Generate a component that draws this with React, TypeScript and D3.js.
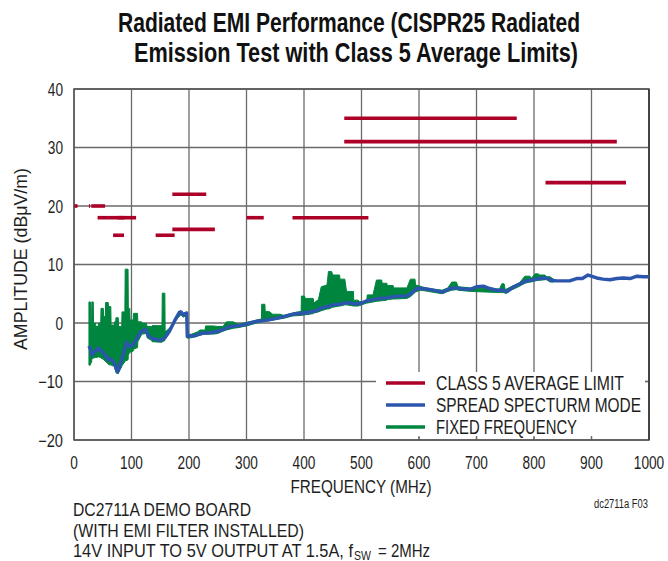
import React from 'react';
import * as d3 from 'd3';

// CISPR25 class 5 average limit segments (MHz, dBµV/m)
const limitStart = [0.53, 26, 30, 41, 76, 68, 142, 171, 171, 300, 380, 470, 470, 820];
const limitEnd = [6.2, 28, 54, 88, 108, 87, 175, 230, 245, 330, 512, 770, 944, 960];
const limitLevel = [20, 20, 20, 18, 18, 15, 15, 22, 16, 18, 18, 35, 31, 24];

// spread spectrum trace
const ssFreq = [26, 29, 31, 34, 37, 42, 45, 50, 54, 60, 64, 68, 72, 75, 77, 80, 83, 86, 89, 92, 95, 97, 103, 109, 114, 118, 124, 129, 135, 141, 147, 153, 158, 161, 166, 170, 175, 179, 183, 186, 190, 193, 196, 197, 202, 210, 218, 225, 235, 248, 260, 271, 283, 294, 306, 318, 330, 341, 352, 364, 376, 387, 393, 398, 405, 410, 422, 428, 440, 450, 462, 474, 486, 497, 509, 520, 532, 544, 555, 567, 578, 584, 590, 596, 608, 620, 631, 642, 654, 666, 677, 689, 700, 712, 723, 735, 747, 753, 763, 776, 787, 798, 810, 821, 830, 839, 851, 862, 874, 884, 894, 909, 920, 932, 944, 955, 967, 979, 990, 1000];
const ssLevel = [-3.9, -4.6, -5.5, -5.0, -4.9, -4.3, -4.6, -5.0, -5.5, -6.3, -6.1, -6.6, -7.4, -8.3, -8.2, -7.1, -6.2, -5.2, -4.2, -3.3, -3.7, -4.0, -3.7, -2.6, -1.8, -1.4, -1.1, -2.1, -2.6, -2.8, -2.9, -2.9, -2.5, -2.1, -1.4, -0.6, 0.4, 1.1, 1.8, 1.9, 1.4, 1.6, 1.7, -2.3, -2.2, -2.2, -1.9, -1.7, -1.7, -1.5, -1.1, -0.6, -0.5, -0.35, 0.0, 0.3, 0.4, 0.6, 0.8, 1.1, 1.4, 1.65, 1.5, 1.8, 1.7, 1.9, 2.1, 2.5, 2.8, 3.1, 3.2, 3.5, 3.3, 3.3, 3.8, 4.0, 4.2, 4.3, 4.5, 4.6, 4.6, 4.9, 5.35, 5.9, 5.9, 5.7, 5.5, 5.3, 5.9, 6.0, 5.8, 5.75, 6.2, 6.3, 5.9, 5.6, 5.6, 5.35, 6.1, 6.7, 7.2, 7.4, 7.6, 7.7, 7.3, 7.2, 7.2, 7.2, 7.6, 7.6, 8.2, 7.7, 7.5, 7.4, 7.6, 7.7, 7.6, 8.0, 7.9, 7.9];

// fixed frequency trace, drawn as its upper and lower envelope
const ffFreq = [26, 28.5, 29, 30.5, 31, 33.5, 34, 37.5, 38, 42, 42.5, 46.5, 47, 51, 51.5, 54.5, 55, 59.5, 60, 64, 64.5, 70, 70.5, 72.5, 73, 77, 77.5, 83, 83.5, 88.5, 89, 94, 94.5, 97, 97.5, 103, 103.5, 110.5, 111, 117.5, 118, 126, 127, 135, 136, 153, 153.5, 158, 158.5, 165, 170, 175, 180, 186, 190, 196, 197, 205, 215, 219, 228, 229, 242, 250, 259, 265, 277, 285, 300, 318, 326, 326.5, 332, 332.5, 341, 345, 358, 365, 380, 395, 395.5, 401, 402, 416, 417, 425, 430, 440, 442.5, 448, 450, 462, 462.5, 471, 474, 486, 486.5, 494, 497, 509, 510, 520, 526, 535, 536, 544, 545, 555, 556, 579, 585, 593, 594, 602, 610, 640, 650, 657, 665, 668, 690, 740, 744, 748, 750, 760, 775, 784, 793, 795, 802, 807, 810, 819, 822, 828, 835];
const ffHigh = [3.6, 3.6, 0.3, 0.3, 3.6, 3.6, -0.05, -0.05, -0.6, -0.6, -0.05, -0.05, 2.5, 2.5, 1.1, 1.1, 3.5, 3.5, 2.8, 2.8, -0.35, -0.35, 0.2, 0.2, 0.9, 0.9, -0.6, -0.6, 1.9, 1.9, 9.2, 9.2, 2.5, 2.5, 0.5, 0.5, 1.65, 1.65, 0.2, 0.2, -0.05, -0.05, -0.6, -0.6, -0.45, -0.45, 5.1, 5.1, -1.5, -1.0, -0.4, 0.6, 1.4, 2.1, 1.6, 1.9, -2.0, -1.9, -1.5, -1.2, -1.2, -0.5, -0.5, -0.6, -0.6, 0.2, 0.2, -0.2, 0.1, 0.5, 0.7, 3.2, 3.2, 2.0, 1.9, 1.5, 1.5, 1.3, 1.7, 2.0, 4.6, 4.6, 4.2, 4.2, 3.4, 4.0, 6.2, 6.5, 8.8, 8.8, 8.2, 8.2, 7.5, 7.5, 5.4, 5.4, 3.9, 3.9, 3.65, 3.65, 4.8, 4.8, 7.35, 7.35, 6.8, 6.8, 6.4, 6.4, 6.0, 6.0, 7.5, 7.5, 6.5, 6.3, 6.0, 5.6, 6.0, 7.0, 7.0, 6.2, 6.0, 5.8, 6.7, 6.7, 5.7, 6.2, 6.9, 8.0, 8.0, 7.6, 8.4, 8.4, 8.2, 8.2, 7.9, 7.9, 7.4];
const ffLow = [-7.2, -7.2, -6.8, -6.8, -6.2, -6.0, -6.0, -5.9, -5.9, -5.8, -5.8, -5.9, -6.0, -6.2, -6.3, -6.5, -6.6, -7.0, -7.1, -7.2, -7.2, -7.4, -7.6, -8.2, -8.5, -8.7, -8.4, -7.5, -7.3, -6.6, -6.5, -6.3, -5.5, -5.0, -5.0, -4.8, -4.5, -4.2, -3.2, -2.0, -1.9, -1.8, -2.5, -3.0, -3.2, -3.3, -3.2, -3.0, -2.8, -1.9, -1.0, 0.0, 0.8, 1.4, 1.0, 1.3, -2.6, -2.5, -2.2, -2.1, -1.9, -1.9, -1.9, -1.8, -1.4, -1.2, -0.9, -0.8, -0.5, 0.0, 0.2, 0.2, 0.3, 0.3, 0.4, 0.5, 0.7, 0.8, 1.2, 1.3, 1.3, 1.4, 1.4, 1.6, 1.7, 1.9, 2.1, 2.4, 2.4, 2.6, 2.7, 2.9, 2.9, 3.1, 3.1, 2.9, 2.9, 2.9, 3.0, 3.4, 3.4, 3.6, 3.7, 3.8, 3.8, 3.9, 4.0, 4.1, 4.1, 4.2, 4.5, 5.2, 5.3, 5.6, 5.5, 5.0, 5.4, 5.6, 5.7, 5.6, 5.4, 5.2, 5.2, 5.2, 5.0, 5.6, 6.3, 6.8, 7.0, 7.0, 7.2, 7.3, 7.3, 7.4, 7.4, 7.0, 7.0];

const xTicks = [0, 100, 200, 300, 400, 500, 600, 700, 800, 900, 1000];
const yTicks = [-20, -10, 0, 10, 20, 30, 40];

const legendLabels = ['CLASS 5 AVERAGE LIMIT', 'SPREAD SPECTURM MODE', 'FIXED FREQUENCY'];
const legendWidths = [188, 205, 141];

const RED = '#ad0028';
const BLUE = '#2c55ad';
const GREEN = '#00853f';
const INK = '#1e1e1e';
const FONT = "'Liberation Sans', Arial, sans-serif";

const W = 668;
const H = 561;
const left = 74, right = 649, top = 89, bottom = 440;

// condensed look: squeeze a regular face to the measured width
const T = ({ w, children, ...rest }: any) => (
  <text textLength={w} lengthAdjust="spacingAndGlyphs" {...rest}>{children}</text>
);

export default function App() {
  const x = d3.scaleLinear().domain([0, 1000]).range([left, right]);
  const y = d3.scaleLinear().domain([-20, 40]).range([bottom, top]);

  const ssLine = d3.line<number>()
    .x((d, i) => x(ssFreq[i]))
    .y(d => y(d))(ssLevel) || '';

  const ffArea = d3.area<number>()
    .x((d, i) => x(ffFreq[i]))
    .y0((d, i) => y(ffLow[i]))
    .y1(d => y(d))(ffHigh) || '';

  const legendColors = [RED, BLUE, GREEN];

  return (
    <svg width={W} height={H} style={{ position: 'absolute', left: 0, top: 0, background: '#fff' }}
      fontFamily={FONT}>
      {/* title */}
      <T w={462} x={349} y={32} textAnchor="middle" fontSize={27.5} fontWeight="bold" fill="#111">
        Radiated EMI Performance (CISPR25 Radiated
      </T>
      <T w={444} x={356} y={62} textAnchor="middle" fontSize={27.5} fontWeight="bold" fill="#111">
        Emission Test with Class 5 Average Limits)
      </T>

      {/* grid */}
      <g stroke="#6a6a6a" strokeWidth={1.3}>
        {xTicks.map(t => (
          <line key={'gx' + t} x1={x(t)} x2={x(t)} y1={top} y2={bottom} />
        ))}
        {yTicks.map(t => (
          <line key={'gy' + t} x1={left} x2={right} y1={y(t)} y2={y(t)} />
        ))}
      </g>

      {/* legend background hides the grid */}
      <rect x={376} y={372} width={269} height={65} fill="#fff" />
      <g stroke="#6a6a6a" strokeWidth={1.3}>
        {xTicks.slice(6, 10).map(t => (
          <line key={'tk' + t} x1={x(t)} x2={x(t)} y1={bottom - 4} y2={bottom} />
        ))}
        <line x1={right - 4} x2={right} y1={y(-10)} y2={y(-10)} />
      </g>

      {/* frame */}
      <rect x={left} y={top} width={right - left} height={bottom - top} fill="none" stroke="#555" strokeWidth={1.5} />
      <line x1={right} x2={right} y1={top} y2={bottom} stroke="#444" strokeWidth={2} />

      {/* limit lines */}
      <g stroke={RED} strokeWidth={3.6}>
        {limitLevel.map((v, i) => (
          <line key={'lim' + i} x1={x(limitStart[i])} x2={x(limitEnd[i])} y1={y(v)} y2={y(v)} />
        ))}
      </g>

      {/* traces */}
      <path d={ffArea} fill={GREEN} stroke={GREEN} strokeWidth={1} strokeLinejoin="round" />
      <path d={ssLine} fill="none" stroke={BLUE} strokeWidth={3.4} strokeLinejoin="round" />

      {/* legend */}
      {legendLabels.map((label, i) => (
        <g key={label}>
          <line x1={386} x2={425} y1={383 + i * 22} y2={383 + i * 22} stroke={legendColors[i]} strokeWidth={3.5} />
          <T w={legendWidths[i]} x={436} y={390 + i * 22} fontSize={19.5} fill={INK}>{label}</T>
        </g>
      ))}

      {/* tick labels */}
      {xTicks.map(t => (
        <T key={'xl' + t} w={String(t).length * 7.6} x={x(t)} y={469} textAnchor="middle" fontSize={17.5} fill={INK}>{t}</T>
      ))}
      {yTicks.map(t => {
        const s = t < 0 ? '\u2212' + Math.abs(t) : String(t);
        return (
          <T key={'yl' + t} w={s.length * 7.6 + (t < 0 ? 2 : 0)} x={63} y={y(t) + 6.5} textAnchor="end" fontSize={17.5} fill={INK}>{s}</T>
        );
      })}

      {/* axis titles */}
      <T w={141} x={361} y={493} textAnchor="middle" fontSize={18.5} fill={INK}>FREQUENCY (MHz)</T>
      <g transform="translate(27, 259) rotate(-90)">
        <T w={182} x={0} y={0} textAnchor="middle" fontSize={18.5} fill={INK}>AMPLITUDE (dBμV/m)</T>
      </g>

      {/* notes */}
      <T w={54} x={648} y={508} textAnchor="end" fontSize={12} fill={INK}>dc2711a F03</T>
      <T w={178} x={73} y={516} fontSize={18.5} fill={INK}>DC2711A DEMO BOARD</T>
      <T w={231} x={73} y={536.5} fontSize={18.5} fill={INK}>(WITH EMI FILTER INSTALLED)</T>
      <T w={280} x={73} y={557} fontSize={18.5} fill={INK}>14V INPUT TO 5V OUTPUT AT 1.5A, f</T>
      <T w={17} x={354} y={560} fontSize={13} fill={INK}>SW</T>
      <T w={52} x={378} y={557} fontSize={18.5} fill={INK}>= 2MHz</T>
    </svg>
  );
}
